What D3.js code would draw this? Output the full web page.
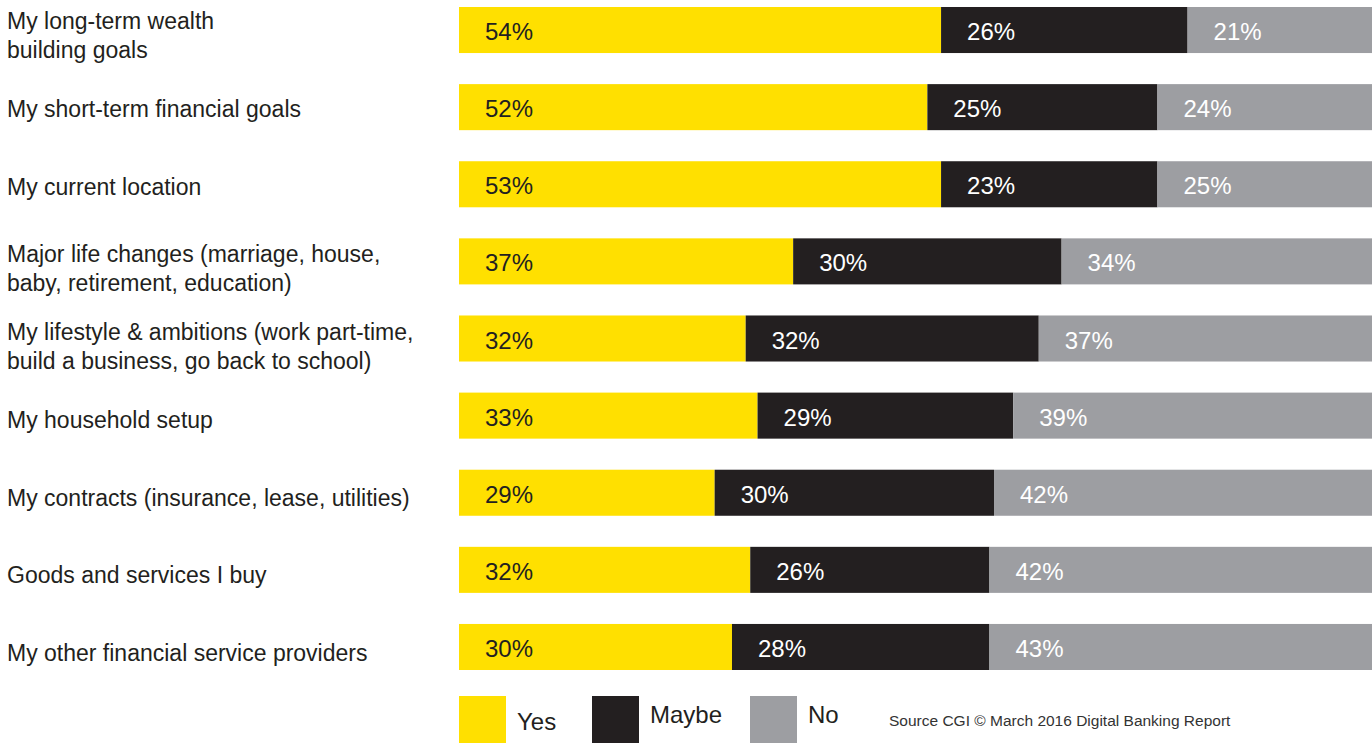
<!DOCTYPE html>
<html lang="en">
<head>
    <meta charset="utf-8">
    <title>Stacked bars</title>
    <style type="text/css">
        body{ margin:0; background:#fff; }
        svg text{ font-family: "Liberation Sans", Arial, Helvetica, sans-serif; }
        .cat{ fill:#231f20; font-size:23px; }
        .pct{ font-size:24px; }
        .leg{ fill:#231f20; font-size:24px; }
        .src{ fill:#333; font-size:15.5px; }
    </style>
</head>
<body>
   <svg class="chart" width="1372" height="743"></svg>

   <script src="https://d3js.org/d3.v7.min.js"></script>
   <script>
        // categories (line breaks as in the picture)
        var categories = [
            ["My long-term wealth", "building goals"],
            ["My short-term financial goals"],
            ["My current location"],
            ["Major life changes (marriage, house,", "baby, retirement, education)"],
            ["My lifestyle & ambitions (work part-time,", "build a business, go back to school)"],
            ["My household setup"],
            ["My contracts (insurance, lease, utilities)"],
            ["Goods and services I buy"],
            ["My other financial service providers"]
        ];

        // bar lengths as drawn (share of the full bar, %)
        var yesShare   = [52.8, 51.3, 52.8, 36.6, 31.4, 32.7, 28.0, 31.9, 29.9];
        var maybeShare = [27.0, 25.2, 23.7, 29.4, 32.1, 28.0, 30.6, 26.2, 28.2];
        var noShare    = [20.2, 23.5, 23.5, 34.0, 36.5, 39.3, 41.4, 41.9, 41.9];

        // printed labels
        var yesLabel   = [54, 52, 53, 37, 32, 33, 29, 32, 30];
        var maybeLabel = [26, 25, 23, 30, 32, 29, 30, 26, 28];
        var noLabel    = [21, 24, 25, 34, 37, 39, 42, 42, 43];

        var seriesNames = ["Yes", "Maybe", "No"];
        var source = "Source CGI \u00a9 March 2016 Digital Banking Report";

        var colors = {Yes: "#ffe000", Maybe: "#231f20", No: "#9d9ea2"};
        var textColors = {Yes: "#231f20", Maybe: "#ffffff", No: "#ffffff"};

        var svg = d3.select('.chart');

        var rows = categories.map(function(c, i){
            return {
                idx: i,
                Yes: yesShare[i], Maybe: maybeShare[i], No: noShare[i],
                labels: {Yes: yesLabel[i], Maybe: maybeLabel[i], No: noLabel[i]}
            };
        });

        var stack = d3.stack().keys(seriesNames);
        var stacked = stack(rows);

        var xscale = d3.scaleLinear().domain([0, 100]).range([459, 1372]);
        var yscale = d3.scaleBand()
                    .domain(d3.range(categories.length))
                    .range([7, 670])
                    .paddingInner(0.403)
                    .paddingOuter(0);
        // the left labels sit on a slightly wider spacing than the bars
        var labelY = d3.scalePoint()
                    .domain(d3.range(categories.length))
                    .range([30, 652]);

        // bars
        var layers = svg.selectAll('.layer')
            .data(stacked)
            .enter()
            .append('g')
            .attr('class', 'layer')
            .attr('fill', function(d){ return colors[d.key]; });

        layers.selectAll('rect')
            .data(function(d){ return d; })
            .enter()
            .append('rect')
            .attr('x', function(d){ return xscale(d[0]); })
            .attr('y', function(d){ return yscale(d.data.idx); })
            .attr('width', function(d){ return xscale(d[1]) - xscale(d[0]); })
            .attr('height', yscale.bandwidth());

        // percent labels
        layers.selectAll('text')
            .data(function(d){ return d.map(function(p){ p.key = d.key; return p; }); })
            .enter()
            .append('text')
            .attr('class', 'pct')
            .attr('x', function(d){ return xscale(d[0]) + 26; })
            .attr('y', function(d){ return yscale(d.data.idx) + yscale.bandwidth() / 2 + 10; })
            .attr('fill', function(d){ return textColors[d.key]; })
            .text(function(d){ return d.data.labels[d.key] + '%'; });

        // category labels
        var cats = svg.selectAll('.cat')
            .data(categories)
            .enter()
            .append('text')
            .attr('class', 'cat')
            .attr('x', 7)
            .attr('y', function(d, i){ return labelY(i) + (d.length > 1 ? -1 : 9); });

        cats.selectAll('tspan')
            .data(function(d){ return d; })
            .enter()
            .append('tspan')
            .attr('x', 7)
            .attr('dy', function(d, j){ return j === 0 ? 0 : 29; })
            .text(function(d){ return d; });

        // legend
        var legendPos = [
            {x: 459, ty: 730},
            {x: 592, ty: 723},
            {x: 750, ty: 723}
        ];
        var legend = svg.selectAll('.legend')
            .data(seriesNames)
            .enter()
            .append('g')
            .attr('class', 'legend')
            .attr('transform', function(d, i){ return 'translate(' + legendPos[i].x + ',0)'; });

        legend.append('rect')
            .attr('y', 696)
            .attr('width', 47)
            .attr('height', 47)
            .attr('fill', function(d){ return colors[d]; });

        legend.append('text')
            .attr('class', 'leg')
            .attr('x', 58)
            .attr('y', function(d, i){ return legendPos[i].ty; })
            .text(function(d){ return d; });

        svg.append('text')
            .attr('class', 'src')
            .attr('x', 889)
            .attr('y', 726)
            .text(source);
   </script>
</body>
</html>
